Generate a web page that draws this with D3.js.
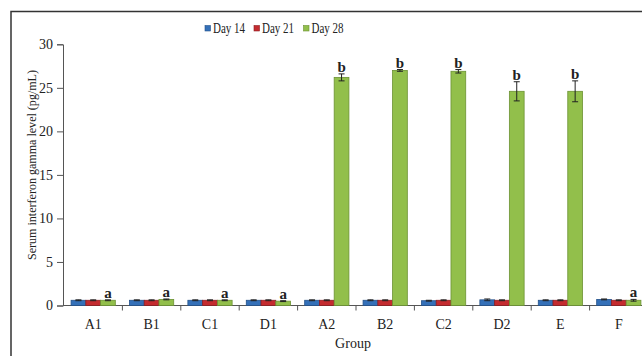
<!DOCTYPE html>
<html>
<head>
<meta charset="utf-8">
<script src="https://cdn.jsdelivr.net/npm/d3@7"></script>
<style>
  body { margin: 0; background: #fff; }
  svg { display: block; }
  text { font-family: "Liberation Serif", "Times New Roman", serif; fill: #222; }
</style>
</head>
<body>
<svg id="chart" width="642" height="356"></svg>
<script>
// Serum IFN-gamma by group and sampling day
const groups = ["A1", "B1", "C1", "D1", "A2", "B2", "C2", "D2", "E", "F"];
const seriesNames = ["Day 14", "Day 21", "Day 28"];
const seriesColors = ["#3470b8", "#c42b2f", "#92bf4b"];
const seriesStrokes = ["#24528a", "#8e1e22", "#6c9233"];
const day14 = [0.6, 0.6, 0.6, 0.6, 0.6, 0.6, 0.55, 0.65, 0.6, 0.7];
const day21 = [0.6, 0.6, 0.6, 0.6, 0.6, 0.6, 0.6, 0.6, 0.6, 0.6];
const day28 = [0.6, 0.7, 0.6, 0.5, 26.2, 27.0, 26.9, 24.6, 24.6, 0.6];
const err14 = [0.05, 0.05, 0.05, 0.05, 0.05, 0.05, 0.05, 0.1, 0.05, 0.05];
const err21 = [0.05, 0.05, 0.05, 0.05, 0.05, 0.05, 0.05, 0.05, 0.05, 0.05];
const err28 = [0.05, 0.05, 0.05, 0.05, 0.4, 0.1, 0.2, 1.1, 1.2, 0.1];
const letters28 = ["a", "a", "a", "a", "b", "b", "b", "b", "b", "a"];
const yTicks = [0, 5, 10, 15, 20, 25, 30];

const values = [day14, day21, day28];
const errors = [err14, err21, err28];

const svg = d3.select("#chart");

// outer frame (left and top edges visible)
svg.append("path")
  .attr("d", "M11,356 L11,11.5 L642,11.5")
  .attr("fill", "none").attr("stroke", "#333").attr("stroke-width", 1.5);

const x0 = d3.scaleBand().domain(groups).range([64, 648]).paddingInner(0).paddingOuter(0);
const x1 = d3.scaleBand().domain(seriesNames).range([0, x0.bandwidth()]).paddingInner(0).paddingOuter(0.48);
const y = d3.scaleLinear().domain([0, 30]).range([305.5, 44.3]);

// y axis
const yAxis = svg.append("g").attr("transform", "translate(63,0)")
  .call(d3.axisLeft(y).tickValues(yTicks).tickSize(6).tickPadding(4));
yAxis.select(".domain").attr("stroke", "#555");
yAxis.selectAll(".tick line").attr("stroke", "#555");
yAxis.selectAll(".tick text").style("font-size", "14px").attr("fill", "#222")
  .attr("font-family", "Liberation Serif, serif");

// x axis with boundary ticks between groups
const xg = svg.append("g");
xg.append("line").attr("x1", 63).attr("x2", 642).attr("y1", y(0)).attr("y2", y(0))
  .attr("stroke", "#555");
xg.selectAll("line.tk").data(groups.slice(1)).join("line").attr("class", "tk")
  .attr("x1", d => x0(d)).attr("x2", d => x0(d))
  .attr("y1", y(0)).attr("y2", y(0) + 5).attr("stroke", "#555");
xg.selectAll("text").data(groups).join("text")
  .attr("x", d => x0(d) + x0.bandwidth() / 2).attr("y", 329)
  .attr("text-anchor", "middle").style("font-size", "14px").text(d => d);

// bars
const rows = [];
groups.forEach((g, i) => seriesNames.forEach((s, j) => rows.push({
  g, s, j, v: values[j][i], e: errors[j][i], i
})));

const bw = x1.bandwidth();
svg.append("g").selectAll("rect").data(rows).join("rect")
  .attr("x", d => x0(d.g) + x1(d.s))
  .attr("y", d => y(d.v))
  .attr("width", bw)
  .attr("height", d => y(0) - y(d.v))
  .attr("fill", d => seriesColors[d.j])
  .attr("stroke", d => seriesStrokes[d.j]).attr("stroke-width", 0.8);

// error bars
const eb = svg.append("g").attr("stroke", "#222").attr("stroke-width", 1);
rows.forEach(d => {
  const cx = x0(d.g) + x1(d.s) + bw / 2;
  eb.append("line").attr("x1", cx).attr("x2", cx).attr("y1", y(d.v + d.e)).attr("y2", y(d.v - d.e));
  eb.append("line").attr("x1", cx - 3).attr("x2", cx + 3).attr("y1", y(d.v + d.e)).attr("y2", y(d.v + d.e));
  eb.append("line").attr("x1", cx - 3).attr("x2", cx + 3).attr("y1", y(d.v - d.e)).attr("y2", y(d.v - d.e));
});

// significance letters above Day 28 bars
svg.append("g").selectAll("text").data(groups).join("text")
  .attr("x", d => x0(d) + x1("Day 28") + bw / 2)
  .attr("y", (d, i) => y(day28[i] + err28[i]) - 2)
  .attr("text-anchor", "middle")
  .style("font-size", "15px").style("font-weight", "bold")
  .text((d, i) => letters28[i]);

// axis titles
svg.append("text").attr("transform", "translate(36,165) rotate(-90)")
  .attr("text-anchor", "middle").style("font-size", "13.5px")
  .attr("textLength", 190).attr("lengthAdjust", "spacingAndGlyphs")
  .text("Serum interferon gamma level (pg/mL)");
svg.append("text").attr("x", 353).attr("y", 348).attr("text-anchor", "middle")
  .style("font-size", "14px").text("Group");

// legend
const legendX = [205, 254, 303.5];
const lg = svg.append("g");
seriesNames.forEach((s, j) => {
  lg.append("rect").attr("x", legendX[j]).attr("y", 25.5).attr("width", 5.5).attr("height", 5.5)
    .attr("fill", seriesColors[j]).attr("stroke", seriesStrokes[j]).attr("stroke-width", 0.6);
  lg.append("text").attr("x", legendX[j] + 8).attr("y", 32.5)
    .style("font-size", "14px")
    .attr("textLength", 32).attr("lengthAdjust", "spacingAndGlyphs")
    .text(s);
});
</script>
</body>
</html>
